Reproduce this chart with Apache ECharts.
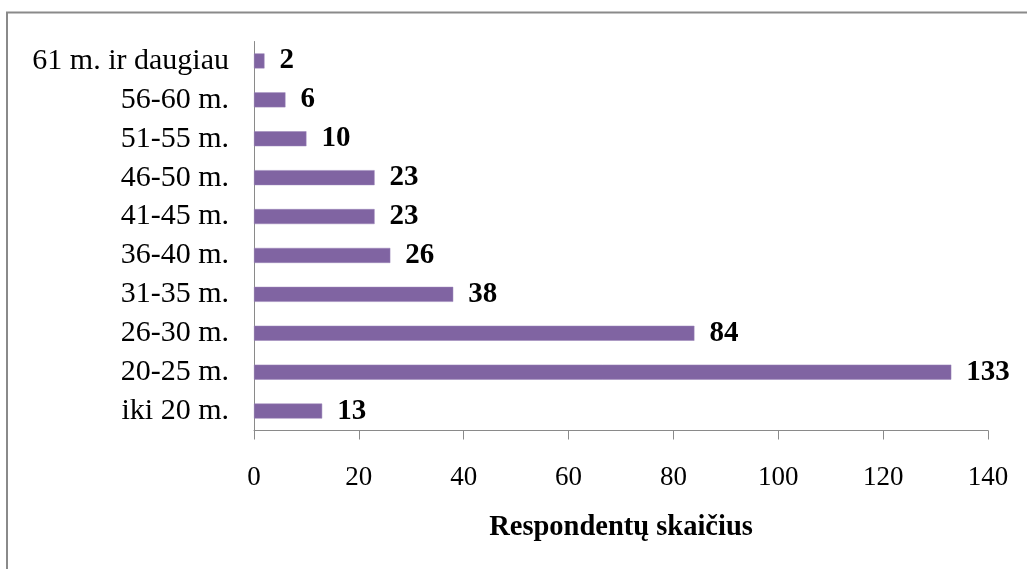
<!DOCTYPE html>
<html>
<head>
<meta charset="utf-8">
<script src="https://cdn.jsdelivr.net/npm/echarts@6/dist/echarts.min.js"></script>
<style>
html,body{margin:0;padding:0;background:#fff;}
#c{width:1027px;height:569px;}
</style>
</head>
<body>
<div id="c"></div>
<script>
const categories = ["iki 20 m.", "20-25 m.", "26-30 m.", "31-35 m.", "36-40 m.", "41-45 m.", "46-50 m.", "51-55 m.", "56-60 m.", "61 m. ir daugiau"];
const values = [13, 133, 84, 38, 26, 23, 23, 10, 6, 2];
const axisTitle = "Respondentų skaičius";

const font = "'Liberation Serif', 'Times New Roman', serif";
const chart = echarts.init(document.getElementById('c'), null, {renderer: 'canvas'});
chart.setOption({
  animation: false,
  backgroundColor: '#ffffff',
  grid: {left: 254, right: 39, top: 41.5, bottom: 138.5, containLabel: false},
  graphic: [
    {type: 'rect', shape: {x: 7, y: 12.5, width: 1100, height: 700}, style: {fill: 'none', stroke: '#8a8a8a', lineWidth: 2}, silent: true}
  ],
  xAxis: {
    type: 'value', min: 0, max: 140, interval: 20,
    name: axisTitle, nameLocation: 'middle', nameGap: 83,
    nameTextStyle: {fontFamily: font, fontSize: 28.5, fontWeight: 'bold', color: '#000'},
    axisLine: {show: true, lineStyle: {color: '#8a8a8a', width: 1}},
    axisTick: {show: true, length: 9, lineStyle: {color: '#8a8a8a'}},
    axisLabel: {fontFamily: font, fontSize: 27, color: '#000', margin: 34},
    splitLine: {show: false}
  },
  yAxis: {
    type: 'category', data: categories,
    axisLine: {show: true, lineStyle: {color: '#8a8a8a', width: 1}},
    axisTick: {show: false},
    axisLabel: {interval: 0, hideOverlap: false, fontFamily: font, fontSize: 30, lineHeight: 30, color: '#000', margin: 25}
  },
  series: [{
    type: 'bar', data: values, barWidth: 15,
    itemStyle: {color: '#8064A2', borderColor: '#9a84b8', borderWidth: 0.5},
    label: {show: true, position: 'right', distance: 15, fontFamily: font, fontSize: 29, fontWeight: 'bold', color: '#000'}
  }]
});
</script>
</body>
</html>
